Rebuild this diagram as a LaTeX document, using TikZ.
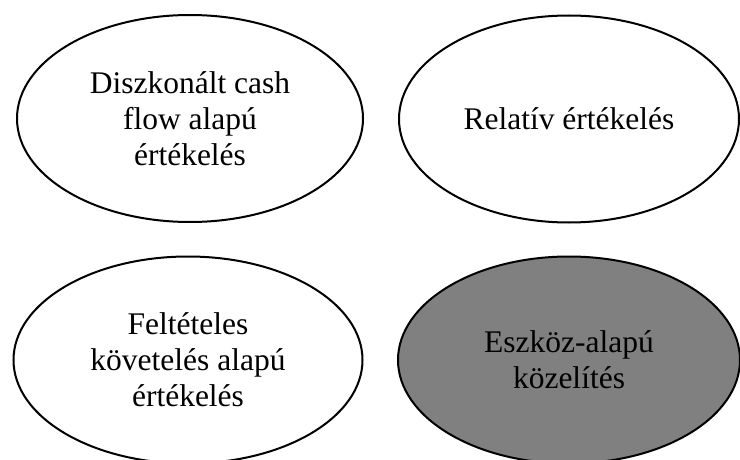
\documentclass[tikz,border=0pt]{standalone}
\usepackage{fontspec}
\setmainfont{Liberation Serif}
\usetikzlibrary{shapes.geometric}
\begin{document}
\begin{tikzpicture}[x=1pt,y=1pt,
  oval/.style={ellipse, draw=black, line width=2pt, fill=white, inner sep=0pt,
    align=center, font=\fontsize{31.5}{36}\selectfont},
  darkoval/.style={oval, fill={rgb,255:red,128;green,128;blue,128}}]
\useasboundingbox (0,0) rectangle (740,459);
\node[oval, minimum width=346, minimum height=207] (dcf) at (190,340.5) {Diszkonált cash\\flow alapú\\értékelés};
\node[oval, minimum width=340, minimum height=207] (rel) at (569,340) {Relatív értékelés};
\node[oval, minimum width=349, minimum height=207] (opt) at (188,99) {Feltételes\\követelés alapú\\értékelés};
\node[darkoval, minimum width=342, minimum height=207] (asset) at (569,99) {Eszköz-alapú\\közelítés};
\end{tikzpicture}
\end{document}
